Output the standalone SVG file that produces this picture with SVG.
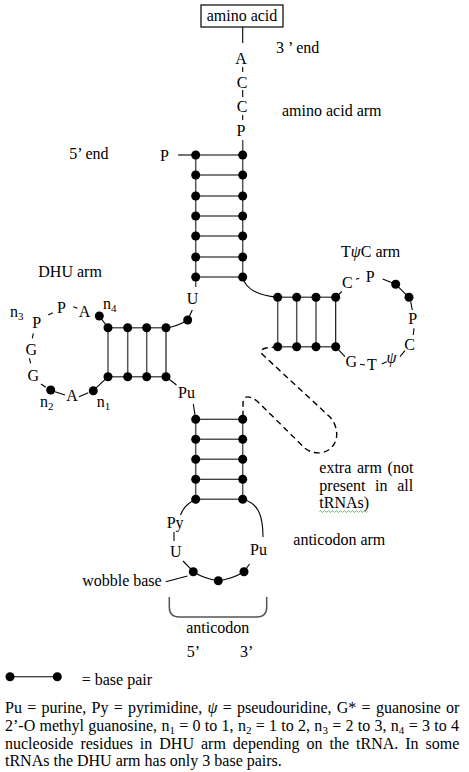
<svg xmlns="http://www.w3.org/2000/svg" width="469" height="772" viewBox="0 0 469 772">
<style>
text{font-family:"Liberation Serif","Times New Roman",serif;font-size:16px;fill:#000}
.ln{stroke:#000;stroke-width:1.1;fill:none}
.st{stroke:#555;stroke-width:1.5;fill:none}
.dash{stroke:#000;stroke-width:1.4;fill:none;stroke-dasharray:6 4}
.dot{fill:#000}
.sub{font-size:11px}
.it{font-style:italic}
</style>
<rect width="469" height="772" fill="#fff"/>

<g id="amino-acid">
<rect x="201" y="5" width="82" height="22" fill="#fff" stroke="#000" stroke-width="1.2"/>
<text x="242" y="21" text-anchor="middle">amino acid</text>
</g>

<g id="acceptor-arm">
<text x="241" y="64" text-anchor="middle">A</text>
<text x="242" y="88" text-anchor="middle">C</text>
<text x="242" y="112" text-anchor="middle">C</text>
<text x="241" y="136" text-anchor="middle">P</text>
<text x="160" y="161">P</text>
<g class="st">
<line x1="195.7" y1="155" x2="195.7" y2="287"/>
<line x1="242.7" y1="140" x2="242.7" y2="277"/>
<line x1="195.7" y1="175" x2="242.7" y2="175"/>
<line x1="195.7" y1="196" x2="242.7" y2="196"/>
<line x1="195.7" y1="236" x2="242.7" y2="236"/>
<line x1="195.7" y1="257" x2="242.7" y2="257"/>
<line x1="195.7" y1="277" x2="242.7" y2="277"/>
</g>
<g class="ln">
<line x1="195.7" y1="155" x2="242.7" y2="155"/>
<line x1="195.7" y1="216" x2="242.7" y2="216"/>
</g>
<g class="dot">
<circle cx="195.7" cy="155" r="4.5"/><circle cx="242.7" cy="155" r="4.5"/>
<circle cx="195.7" cy="175" r="4.5"/><circle cx="242.7" cy="175" r="4.5"/>
<circle cx="195.7" cy="196" r="4.5"/><circle cx="242.7" cy="196" r="4.5"/>
<circle cx="195.7" cy="216" r="4.5"/><circle cx="242.7" cy="216" r="4.5"/>
<circle cx="195.7" cy="236" r="4.5"/><circle cx="242.7" cy="236" r="4.5"/>
<circle cx="195.7" cy="257" r="4.5"/><circle cx="242.7" cy="257" r="4.5"/>
<circle cx="195.7" cy="277" r="4.5"/><circle cx="242.7" cy="277" r="4.5"/>
</g>
<text x="192.5" y="304" text-anchor="middle">U</text>
<circle class="dot" cx="187.7" cy="320" r="4.5"/>
</g>

<g id="dhu-arm">
<g class="st">
<line x1="108" y1="327.7" x2="108" y2="376.7"/>
<line x1="127.7" y1="327.7" x2="127.7" y2="376.7"/>
<line x1="146.7" y1="327.7" x2="146.7" y2="376.7"/>
<line x1="108" y1="327.7" x2="166" y2="327.7"/>
<line x1="108" y1="376.7" x2="166" y2="376.7"/>
</g>
<line class="ln" x1="166" y1="327.7" x2="166" y2="376.7"/>
<g class="dot">
<circle cx="108" cy="327.7" r="4.5"/><circle cx="127.7" cy="327.7" r="4.5"/><circle cx="146.7" cy="327.7" r="4.5"/><circle cx="166" cy="327.7" r="4.5"/>
<circle cx="108" cy="376.7" r="4.5"/><circle cx="127.7" cy="376.7" r="4.5"/><circle cx="146.7" cy="376.7" r="4.5"/><circle cx="166" cy="376.7" r="4.5"/>
<circle cx="99.3" cy="316" r="4.5"/>
<circle cx="50.7" cy="390" r="4.5"/>
<circle cx="93.3" cy="390.7" r="4.5"/>
</g>
<g class="ln">
<line x1="99.3" y1="316" x2="108" y2="327.7"/>
<line x1="93.3" y1="390.7" x2="108" y2="376.7"/>
<line x1="73.3" y1="306.7" x2="77.3" y2="308.3"/>
<line x1="48.3" y1="315" x2="52.7" y2="312.7"/>
<line x1="33.3" y1="333.3" x2="32.3" y2="338.3"/>
<line x1="29.3" y1="358.3" x2="30.7" y2="363.3"/>
<line x1="41" y1="384" x2="45.7" y2="387.3"/>
<line x1="55" y1="391.7" x2="65" y2="395"/>
<line x1="79" y1="396.7" x2="88.3" y2="392.7"/>
</g>
<text x="84.5" y="317.3" text-anchor="middle">A</text>
<text x="61.5" y="313.3" text-anchor="middle">P</text>
<text x="36.7" y="327.7" text-anchor="middle">P</text>
<text x="31.3" y="355" text-anchor="middle">G</text>
<text x="33.2" y="380.7" text-anchor="middle">G</text>
<text x="72" y="401" text-anchor="middle">A</text>
<text x="103" y="309">n<tspan class="sub" dy="3">4</tspan></text>
<text x="10" y="316.7">n<tspan class="sub" dy="3">3</tspan></text>
<text x="40" y="406.7">n<tspan class="sub" dy="3">2</tspan></text>
<text x="96.7" y="406.7">n<tspan class="sub" dy="3">1</tspan></text>
<text x="178" y="398.3">Pu</text>
</g>

<g id="tpsic-arm">
<g class="st">
<line x1="277.7" y1="297.3" x2="277.7" y2="346.7"/>
<line x1="296.7" y1="297.3" x2="296.7" y2="346.7"/>
<line x1="316" y1="297.3" x2="316" y2="346.7"/>
<line x1="277.7" y1="297.3" x2="335.7" y2="297.3"/>
<line x1="277.7" y1="346.7" x2="335.7" y2="346.7"/>
</g>
<line class="ln" x1="335.7" y1="297.3" x2="335.7" y2="346.7"/>
<g class="dot">
<circle cx="277.7" cy="297.3" r="4.5"/><circle cx="296.7" cy="297.3" r="4.5"/><circle cx="316" cy="297.3" r="4.5"/><circle cx="335.7" cy="297.3" r="4.5"/>
<circle cx="277.7" cy="346.7" r="4.5"/><circle cx="296.7" cy="346.7" r="4.5"/><circle cx="316" cy="346.7" r="4.5"/><circle cx="335.7" cy="346.7" r="4.5"/>
<circle cx="395.7" cy="284.3" r="4.5"/>
<circle cx="409" cy="297.3" r="4.5"/>
</g>
<g class="ln">
<line x1="335.7" y1="297.3" x2="341.7" y2="291.5"/>
<line x1="356" y1="279.3" x2="359.3" y2="278.3"/>
<line x1="382.7" y1="279" x2="393.3" y2="283.3"/>
<line x1="395.7" y1="284.3" x2="409" y2="297.3"/>
<line x1="410.7" y1="301.7" x2="412.3" y2="310"/>
<line x1="414" y1="328.3" x2="413.3" y2="335"/>
<line x1="405" y1="350.7" x2="400" y2="356.7"/>
<line x1="386.7" y1="361.7" x2="381.7" y2="364"/>
<line x1="365" y1="365" x2="360" y2="364.3"/>
<line x1="345" y1="356.7" x2="335.7" y2="346.7"/>
</g>
<text x="347.3" y="288.3" text-anchor="middle">C</text>
<text x="370.2" y="281.7" text-anchor="middle">P</text>
<text x="412.8" y="324" text-anchor="middle">P</text>
<text x="409.7" y="350" text-anchor="middle">C</text>
<text x="391.5" y="362.7" text-anchor="middle" class="it">ψ</text>
<text x="372" y="370" text-anchor="middle">T</text>
<text x="351.2" y="366.7" text-anchor="middle">G</text>
</g>

<g id="anticodon-arm">
<g class="st">
<line x1="195.7" y1="419.3" x2="195.7" y2="499.3"/>
<line x1="242.7" y1="419.3" x2="242.7" y2="499.3"/>
<line x1="195.7" y1="439.3" x2="242.7" y2="439.3"/>
<line x1="195.7" y1="459.3" x2="242.7" y2="459.3"/>
<line x1="195.7" y1="499.3" x2="242.7" y2="499.3"/>
</g>
<g class="ln">
<line x1="195.7" y1="419.3" x2="242.7" y2="419.3"/>
<line x1="195.7" y1="479.3" x2="242.7" y2="479.3"/>
</g>
<g class="dot">
<circle cx="195.7" cy="419.3" r="4.5"/><circle cx="242.7" cy="419.3" r="4.5"/>
<circle cx="195.7" cy="439.3" r="4.5"/><circle cx="242.7" cy="439.3" r="4.5"/>
<circle cx="195.7" cy="459.3" r="4.5"/><circle cx="242.7" cy="459.3" r="4.5"/>
<circle cx="195.7" cy="479.3" r="4.5"/><circle cx="242.7" cy="479.3" r="4.5"/>
<circle cx="195.7" cy="499.3" r="4.5"/><circle cx="242.7" cy="499.3" r="4.5"/>
<circle cx="193.3" cy="571.7" r="4.5"/>
<circle cx="218.3" cy="580.7" r="4.5"/>
<circle cx="244" cy="571.7" r="4.5"/>
</g>
<g class="ln">
<path d="M195.7,499.3 Q184,505 180.5,515"/>
<path d="M242.7,499.3 C258,503 263,515 263,537"/>
<line x1="174" y1="532" x2="174" y2="541"/>
<line x1="183" y1="561" x2="193.3" y2="571.7"/>
<path d="M193.3,571.7 Q205,579 218.3,580.7"/>
<path d="M218.3,580.7 Q232,579 244,571.7"/>
<line x1="244" y1="571.7" x2="249.5" y2="564"/>
<line x1="165.7" y1="581.7" x2="187.5" y2="576"/>
</g>
<text x="166.7" y="527.5">Py</text>
<text x="175.8" y="557.3" text-anchor="middle">U</text>
<text x="250" y="555">Pu</text>
<text x="161.7" y="586" text-anchor="end">wobble base</text>
<path class="st" d="M169.3,597 L169.3,607 Q169.3,617 179.3,617 L256.7,617 Q266.7,617 266.7,607 L266.7,597"/>
<text x="217.7" y="633.3" text-anchor="middle">anticodon</text>
<text x="186.7" y="657">5’</text>
<text x="240" y="657">3’</text>
</g>

<g id="connectors">
<line class="ln" x1="242.7" y1="27" x2="242.7" y2="43"/>
<line class="ln" x1="242.7" y1="67" x2="242.7" y2="72"/>
<line class="ln" x1="242.7" y1="90" x2="242.7" y2="97"/>
<line class="ln" x1="242.7" y1="115" x2="242.7" y2="120"/>
<line class="ln" x1="178" y1="155" x2="195.7" y2="155"/>
<line class="ln" x1="192.3" y1="310" x2="187.7" y2="320"/>
<path class="ln" d="M187.7,320 Q176,327 166,327.7"/>
<path class="ln" d="M242.7,277 Q246,294 277.7,297.3"/>
<line class="ln" x1="166" y1="376.7" x2="176.5" y2="385"/>
<line class="ln" x1="193.3" y1="404" x2="195.7" y2="419.3"/>
<path id="extra-arm" class="dash" d="M277.7,346.7 L266,348 Q258,350 263,355 L330,417 C340,428 340,448 322,452.7 C315,453.5 310,452 305,448.3 L257,401 C250,396 243,394 243,404 L243,419.3"/>
</g>

<g id="labels">
<text x="276" y="53">3 ’ end</text>
<text x="282" y="116">amino acid arm</text>
<text x="69.3" y="159">5’ end</text>
<text x="38.3" y="277">DHU arm</text>
<text x="341" y="257">T<tspan class="it">ψ</tspan>C arm</text>
<text x="319.3" y="472.7" word-spacing="1.7">extra arm (not</text>
<text x="319.3" y="490.7" word-spacing="5.6">present in all</text>
<text x="319.3" y="508.3">tRNAs)</text>
<path d="M319.5,511.5 q1,-1.6 2,0 t2,0 t2,0 t2,0 t2,0 t2,0 t2,0 t2,0 t2,0 t2,0 t2,0 t2,0 t2,0 t2,0 t2,0 t2,0 t2,0 t2,0 t2,0 t2,0 t2,0 t2,0 t2,0 t2,0" fill="none" stroke="#3a9a3a" stroke-width="0.8"/>
<text x="293.3" y="545">anticodon arm</text>
</g>

<g id="legend">
<line class="ln" x1="10" y1="676.7" x2="57.3" y2="676.7"/>
<circle class="dot" cx="10" cy="676.7" r="4.5"/>
<circle class="dot" cx="57.3" cy="676.7" r="4.5"/>
<text x="81.7" y="685">= base pair</text>
<text x="5" y="712.7" word-spacing="1.25">Pu = purine, Py = pyrimidine, <tspan class="it">ψ</tspan> = pseudouridine, G* = guanosine or</text>
<text x="5" y="730.7" word-spacing="0.3">2’-O methyl guanosine, n<tspan class="sub" dy="3">1</tspan><tspan dy="-3"> = 0 to 1, n</tspan><tspan class="sub" dy="3">2</tspan><tspan dy="-3"> = 1 to 2, n</tspan><tspan class="sub" dy="3">3</tspan><tspan dy="-3"> = 2 to 3, n</tspan><tspan class="sub" dy="3">4</tspan><tspan dy="-3"> = 3 to 4</tspan></text>
<text x="5" y="748.5" word-spacing="3">nucleoside residues in DHU arm depending on the tRNA. In some</text>
<text x="5" y="766.3">tRNAs the DHU arm has only 3 base pairs.</text>
</g>
</svg>
